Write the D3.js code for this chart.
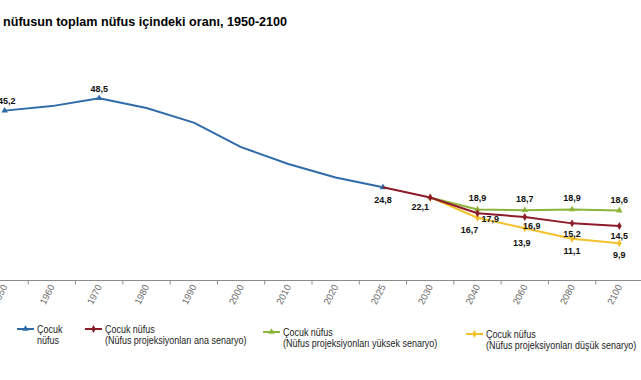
<!DOCTYPE html>
<html>
<head>
<meta charset="utf-8">
<script src="https://cdn.jsdelivr.net/npm/d3@7"></script>
<style>
  body { margin: 0; background: #fff; }
  svg { display: block; }
  .title { font-family: "Liberation Sans", Arial, sans-serif; font-weight: bold; font-size: 12.6px; }
  .tick text { font-family: "Liberation Sans", Arial, sans-serif; font-size: 9.5px; fill: #666; }
  .val { font-family: "Liberation Sans", Arial, sans-serif; font-weight: bold; font-size: 9px; fill: #111; }
  .legend text { font-family: "Liberation Sans", Arial, sans-serif; font-size: 11.5px; fill: #222; }
</style>
</head>
<body>
<svg id="chart"></svg>
<script>
// categories (x axis)
const years = ['1950', '1960', '1970', '1980', '1990', '2000', '2010', '2020', '2025', '2030', '2040', '2060', '2080', '2100'];

// series values
const childYears = ['1950', '1960', '1970', '1980', '1990', '2000', '2010', '2020', '2025'];
const childVals = [45.2, 46.4, 48.5, 45.9, 42.0, 35.5, 31.0, 27.4, 24.8];

const mainYears = ['2025', '2030', '2040', '2060', '2080', '2100'];
const mainVals = [24.8, 22.1, 17.9, 16.9, 15.2, 14.5];

const highYears = ['2030', '2040', '2060', '2080', '2100'];
const highVals = [22.1, 18.9, 18.7, 18.9, 18.6];

const lowYears = ['2030', '2040', '2060', '2080', '2100'];
const lowVals = [22.1, 16.7, 13.9, 11.1, 9.9];

const seriesNames = [
  ['Çocuk', 'nüfus'],
  ['Çocuk nüfus', '(Nüfus projeksiyonları ana senaryo)'],
  ['Çocuk nüfus', '(Nüfus projeksiyonları yüksek senaryo)'],
  ['Çocuk nüfus', '(Nüfus projeksiyonları düşük senaryo)']
];

// labelled points and where their labels go
const labelled = {
  child: { '1950': [2, -7], '1970': [0, -6], '2025': [0, 13] },
  main:  { '2030': [-10, 9], '2040': [4, 6, 'start'], '2060': [7, 9], '2080': [0, 10.5], '2100': [0, 10] },
  high:  { '2040': [0, -8], '2060': [0, -8], '2080': [0, -8], '2100': [0, -8] },
  low:   { '2040': [-8, 12], '2060': [-3, 15], '2080': [0, 12], '2100': [0, 11.5] }
};

const width = 641, height = 380;
const svg = d3.select('#chart').attr('width', width).attr('height', height);

const x = d3.scaleBand().domain(years).range([-19, 643]);
const cx = d => x(d) + x.bandwidth() / 2;
const y = d3.scaleLinear().domain([0, 60]).range([280.5, 55]);

svg.append('text').attr('class', 'title')
  .attr('x', 3).attr('y', 26)
  .text('nüfusun toplam nüfus içindeki oranı, 1950-2100');

// x axis
const axisY = y(0);
svg.append('line')
  .attr('x1', 0).attr('x2', width)
  .attr('y1', axisY).attr('y2', axisY)
  .attr('stroke', '#8c8c8c').attr('stroke-width', 1);

svg.selectAll('line.bound').data(years.slice(1))
  .join('line').attr('class', 'bound')
  .attr('x1', d => x(d)).attr('x2', d => x(d))
  .attr('y1', axisY).attr('y2', axisY + 4)
  .attr('stroke', '#8c8c8c');

const xAxis = d3.axisBottom(x).tickSize(0).tickPadding(0);
const xAxisG = svg.append('g').attr('transform', `translate(0,${axisY})`).call(xAxis);
xAxisG.select('.domain').remove();
xAxisG.selectAll('text')
  .attr('text-anchor', 'end')
  .attr('dy', 0)
  .attr('transform', 'translate(3,6) rotate(-63)');

const series = [
  { key: 'child', yrs: childYears, vals: childVals, color: '#2f6ba8', marker: d3.symbolTriangle },
  { key: 'main', yrs: mainYears, vals: mainVals, color: '#8e1b2a', marker: d3.symbolDiamond },
  { key: 'high', yrs: highYears, vals: highVals, color: '#8cb43a', marker: d3.symbolTriangle },
  { key: 'low', yrs: lowYears, vals: lowVals, color: '#f4c12d', marker: d3.symbolDiamond }
];

// draw in an order so red sits on top of yellow at the start
const drawOrder = ['child', 'low', 'high', 'main'];

drawOrder.forEach(k => {
  const s = series.find(d => d.key === k);
  const pts = s.yrs.map((yr, i) => ({ yr, v: s.vals[i] }));
  const line = d3.line().x(d => cx(d.yr)).y(d => y(d.v));

  svg.append('path').datum(pts)
    .attr('d', line)
    .attr('fill', 'none')
    .attr('stroke', s.color)
    .attr('stroke-width', 2)
    .attr('stroke-linejoin', 'round');

  const marked = pts.filter(d => s.key !== 'child' ? d.yr !== '2025' : labelled.child[d.yr]);
  svg.selectAll(null).data(marked).join('path')
    .attr('d', d3.symbol().type(s.marker).size(18))
    .attr('transform', d => `translate(${cx(d.yr)},${y(d.v)})`)
    .attr('fill', s.color);
});

series.forEach(s => {
  const pts = s.yrs.map((yr, i) => ({ yr, v: s.vals[i] })).filter(d => labelled[s.key][d.yr]);
  svg.selectAll(null).data(pts).join('text')
    .attr('class', 'val')
    .attr('x', d => cx(d.yr) + labelled[s.key][d.yr][0])
    .attr('y', d => y(d.v) + labelled[s.key][d.yr][1])
    .attr('dy', d => labelled[s.key][d.yr][1] < 0 ? 0 : '0.35em')
    .attr('text-anchor', d => labelled[s.key][d.yr][2] || 'middle')
    .text(d => d3.format('.1f')(d.v).replace('.', ','));
});

// legend (narrow lettering, squeezed horizontally)
const legendPos = [[17, 329], [85, 329], [263, 332], [466, 334]];
const legend = svg.append('g').attr('class', 'legend');
series.forEach((s, i) => {
  const [lx, ly] = legendPos[i];
  const g = legend.append('g').attr('transform', `translate(${lx},${ly})`);
  g.append('line').attr('x1', 0).attr('x2', 17).attr('y1', 0).attr('y2', 0)
    .attr('stroke', s.color).attr('stroke-width', 2);
  g.append('path').attr('d', d3.symbol().type(s.marker).size(18)())
    .attr('transform', 'translate(8.5,0)').attr('fill', s.color);
  const tg = g.append('g').attr('transform', 'translate(20,0) scale(0.78,1)');
  tg.append('text').attr('x', 0).attr('y', 3.5).text(seriesNames[i][0]);
  tg.append('text').attr('x', 0).attr('y', 15).text(seriesNames[i][1]);
});
</script>
</body>
</html>
